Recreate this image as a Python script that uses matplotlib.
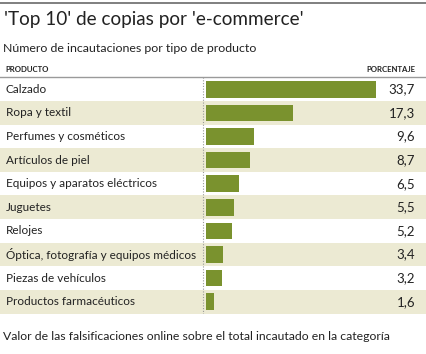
import matplotlib
matplotlib.use("Agg")
import matplotlib.pyplot as plt
from matplotlib.patches import Rectangle

categories = ["Calzado", "Ropa y textil", "Perfumes y cosméticos", "Artículos de piel",
              "Equipos y aparatos eléctricos", "Juguetes", "Relojes",
              "Óptica, fotografía y equipos médicos", "Piezas de vehículos",
              "Productos farmacéuticos"]
values = [33.7, 17.3, 9.6, 8.7, 6.5, 5.5, 5.2, 3.4, 3.2, 1.6]
value_labels = ["33,7", "17,3", "9,6", "8,7", "6,5", "5,5", "5,2", "3,4", "3,2", "1,6"]

title = "'Top 10' de copias por 'e-commerce'"
subtitle = "Número de incautaciones por tipo de producto"
footer = "Valor de las falsificaciones online sobre el total incautado en la categoría"

plt.rcParams['font.family'] = ['Lato', 'DejaVu Sans']

W, H = 427, 354
fig = plt.figure(figsize=(W / 100, H / 100), dpi=100)
fig.patch.set_facecolor("white")

def fx(px):
    return px / W

def fy(py):
    return 1 - py / H

# top rule
fig.add_artist(plt.Line2D([0, 1], [fy(3), fy(3)], color="#7f7f7f", lw=1.4))
fig.text(fx(4), fy(19), title, fontsize=13.6, color="#222222", va="center", ha="left")
fig.text(fx(3), fy(48), subtitle, fontsize=8.9, color="#222222", va="center", ha="left")
fig.text(fx(5), fy(69), "PRODUCTO", fontsize=5.6, fontweight="bold", color="#222222",
         va="center")
fig.text(fx(415), fy(69), "PORCENTAJE", fontsize=5.6, fontweight="bold", color="#222222",
         va="center", ha="right")
fig.add_artist(plt.Line2D([0, 1], [fy(77), fy(77)], color="#9a9a9a", lw=1.0))

top, bottom = 77.5, 313.5
n = len(categories)

# background axes (full width) with row bands
bg = fig.add_axes([0, fy(bottom), 1, (bottom - top) / H])
bg.set_xlim(0, 1)
bg.set_ylim(n - 0.5, -0.5)
bg.axis("off")
for i in range(n):
    if i % 2 == 1:
        bg.add_patch(Rectangle((0, i - 0.5), 1, 1, facecolor="#ecead3", edgecolor="none"))
    bg.text(fx(6), i, categories[i], fontsize=8.5, color="#222222", va="center", ha="left")
    bg.text(fx(415), i, value_labels[i], fontsize=9.5, color="#222222", va="center", ha="right")
bg.plot([fx(203), fx(203)], [-0.5, n - 0.5], color="#999999", lw=0.8, ls=(0, (1, 1.5)))

# bar axes
x0, x1 = 206, 427
ax = fig.add_axes([fx(x0), fy(bottom), (x1 - x0) / W, (bottom - top) / H])
ax.set_xlim(0, 33.7 * (x1 - x0) / (376 - x0))
ax.set_ylim(n - 0.5, -0.5)
ax.patch.set_alpha(0)
ax.axis("off")
ax.barh(range(n), values, height=0.7, color="#7a922e", edgecolor="none")

fig.text(fx(3), fy(337), footer, fontsize=8.8, color="#222222", va="center", ha="left")

fig.savefig("out.png", dpi=100)
